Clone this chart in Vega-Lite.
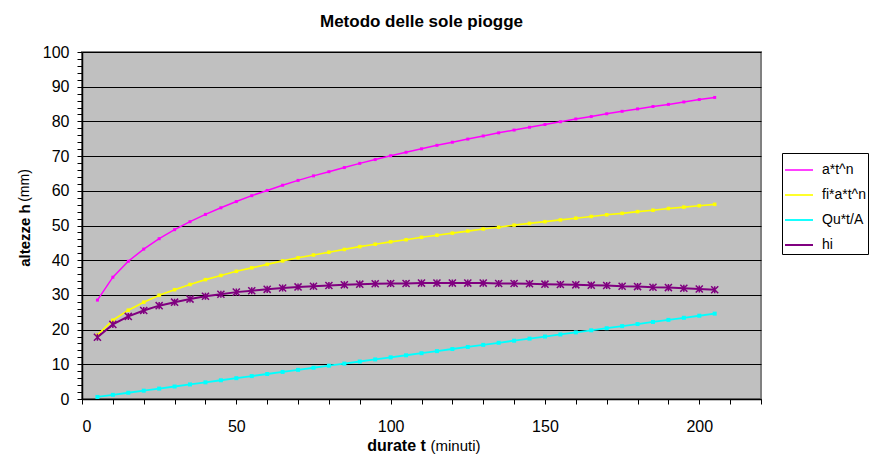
{
  "$schema": "https://vega.github.io/schema/vega-lite/v6.json",
  "width": 679,
  "height": 347,
  "autosize": {"type": "none"},
  "padding": {"left": 82, "top": 52, "right": 111, "bottom": 58},
  "background": "white",
  "view": {"fill": "#C0C0C0", "stroke": "#808080", "strokeWidth": 2},
  "config": {
    "font": "Liberation Sans",
    "axis": {"labelFont": "Liberation Sans", "titleFont": "Liberation Sans", "labelColor": "black", "titleColor": "black", "domainColor": "black", "tickColor": "black"},
    "legend": {"labelFont": "Liberation Sans"}
  },
  "title": {
    "text": "Metodo delle sole piogge",
    "font": "Liberation Sans",
    "fontSize": 17,
    "fontWeight": "bold",
    "color": "black",
    "anchor": "middle",
    "frame": "group",
    "offset": 13
  },
  "data": {
    "values": [
      {"t": 5, "a*t^n": 28.5, "fi*a*t^n": 18.4, "Qu*t/A": 0.6, "hi": 17.8},
      {"t": 10, "a*t^n": 35.1, "fi*a*t^n": 22.7, "Qu*t/A": 1.2, "hi": 21.5},
      {"t": 15, "a*t^n": 39.7, "fi*a*t^n": 25.6, "Qu*t/A": 1.8, "hi": 23.8},
      {"t": 20, "a*t^n": 43.2, "fi*a*t^n": 27.9, "Qu*t/A": 2.4, "hi": 25.5},
      {"t": 25, "a*t^n": 46.2, "fi*a*t^n": 29.9, "Qu*t/A": 3.0, "hi": 26.9},
      {"t": 30, "a*t^n": 48.8, "fi*a*t^n": 31.5, "Qu*t/A": 3.6, "hi": 27.9},
      {"t": 35, "a*t^n": 51.1, "fi*a*t^n": 33.0, "Qu*t/A": 4.2, "hi": 28.8},
      {"t": 40, "a*t^n": 53.2, "fi*a*t^n": 34.4, "Qu*t/A": 4.8, "hi": 29.6},
      {"t": 45, "a*t^n": 55.1, "fi*a*t^n": 35.6, "Qu*t/A": 5.4, "hi": 30.2},
      {"t": 50, "a*t^n": 56.9, "fi*a*t^n": 36.8, "Qu*t/A": 6.0, "hi": 30.8},
      {"t": 55, "a*t^n": 58.6, "fi*a*t^n": 37.8, "Qu*t/A": 6.6, "hi": 31.2},
      {"t": 60, "a*t^n": 60.1, "fi*a*t^n": 38.8, "Qu*t/A": 7.2, "hi": 31.6},
      {"t": 65, "a*t^n": 61.6, "fi*a*t^n": 39.8, "Qu*t/A": 7.8, "hi": 32.0},
      {"t": 70, "a*t^n": 63.0, "fi*a*t^n": 40.7, "Qu*t/A": 8.4, "hi": 32.3},
      {"t": 75, "a*t^n": 64.3, "fi*a*t^n": 41.5, "Qu*t/A": 9.0, "hi": 32.5},
      {"t": 80, "a*t^n": 65.5, "fi*a*t^n": 42.3, "Qu*t/A": 9.6, "hi": 32.7},
      {"t": 85, "a*t^n": 66.7, "fi*a*t^n": 43.1, "Qu*t/A": 10.2, "hi": 32.9},
      {"t": 90, "a*t^n": 67.9, "fi*a*t^n": 43.9, "Qu*t/A": 10.8, "hi": 33.1},
      {"t": 95, "a*t^n": 69.0, "fi*a*t^n": 44.6, "Qu*t/A": 11.4, "hi": 33.2},
      {"t": 100, "a*t^n": 70.1, "fi*a*t^n": 45.3, "Qu*t/A": 12.0, "hi": 33.3},
      {"t": 105, "a*t^n": 71.1, "fi*a*t^n": 45.9, "Qu*t/A": 12.6, "hi": 33.3},
      {"t": 110, "a*t^n": 72.1, "fi*a*t^n": 46.6, "Qu*t/A": 13.2, "hi": 33.4},
      {"t": 115, "a*t^n": 73.1, "fi*a*t^n": 47.2, "Qu*t/A": 13.8, "hi": 33.4},
      {"t": 120, "a*t^n": 74.0, "fi*a*t^n": 47.8, "Qu*t/A": 14.4, "hi": 33.4},
      {"t": 125, "a*t^n": 74.9, "fi*a*t^n": 48.4, "Qu*t/A": 15.0, "hi": 33.4},
      {"t": 130, "a*t^n": 75.8, "fi*a*t^n": 49.0, "Qu*t/A": 15.6, "hi": 33.4},
      {"t": 135, "a*t^n": 76.7, "fi*a*t^n": 49.5, "Qu*t/A": 16.2, "hi": 33.3},
      {"t": 140, "a*t^n": 77.5, "fi*a*t^n": 50.1, "Qu*t/A": 16.8, "hi": 33.3},
      {"t": 145, "a*t^n": 78.3, "fi*a*t^n": 50.6, "Qu*t/A": 17.4, "hi": 33.2},
      {"t": 150, "a*t^n": 79.1, "fi*a*t^n": 51.1, "Qu*t/A": 18.0, "hi": 33.1},
      {"t": 155, "a*t^n": 79.9, "fi*a*t^n": 51.6, "Qu*t/A": 18.6, "hi": 33.0},
      {"t": 160, "a*t^n": 80.7, "fi*a*t^n": 52.1, "Qu*t/A": 19.2, "hi": 32.9},
      {"t": 165, "a*t^n": 81.4, "fi*a*t^n": 52.6, "Qu*t/A": 19.8, "hi": 32.8},
      {"t": 170, "a*t^n": 82.2, "fi*a*t^n": 53.1, "Qu*t/A": 20.4, "hi": 32.7},
      {"t": 175, "a*t^n": 82.9, "fi*a*t^n": 53.5, "Qu*t/A": 21.0, "hi": 32.5},
      {"t": 180, "a*t^n": 83.6, "fi*a*t^n": 54.0, "Qu*t/A": 21.6, "hi": 32.4},
      {"t": 185, "a*t^n": 84.3, "fi*a*t^n": 54.4, "Qu*t/A": 22.2, "hi": 32.2},
      {"t": 190, "a*t^n": 84.9, "fi*a*t^n": 54.9, "Qu*t/A": 22.8, "hi": 32.1},
      {"t": 195, "a*t^n": 85.6, "fi*a*t^n": 55.3, "Qu*t/A": 23.4, "hi": 31.9},
      {"t": 200, "a*t^n": 86.3, "fi*a*t^n": 55.7, "Qu*t/A": 24.0, "hi": 31.7},
      {"t": 205, "a*t^n": 86.9, "fi*a*t^n": 56.1, "Qu*t/A": 24.6, "hi": 31.5}
    ]
  },
  "transform": [
    {"fold": ["a*t^n", "fi*a*t^n", "Qu*t/A", "hi"], "as": ["serie", "h"]}
  ],
  "resolve": {"axis": {"x": "independent", "y": "independent"}},
  "layer": [
    {
      "mark": {"type": "line", "clip": true},
      "encoding": {
        "x": {
          "field": "t", "type": "quantitative",
          "scale": {"domain": [0, 220], "nice": false, "zero": false},
          "axis": {
            "orient": "bottom",
            "values": [0,10,20,30,40,50,60,70,80,90,100,110,120,130,140,150,160,170,180,190,200,210,220],
            "labelExpr": "datum.value % 50 === 0 ? datum.label : ''",
            "labelOverlap": false,
            "labelFontSize": 16,
            "labelPadding": 14,
            "tickSize": 5,
            "domainWidth": 1.5,
            "grid": false,
            "title": "durate t",
            "titleFontSize": 16,
            "titleFontWeight": "bold",
            "titleX": 314,
            "titleY": 51,
            "titleAlign": "center",
            "titleBaseline": "alphabetic"
          }
        },
        "y": {
          "field": "h", "type": "quantitative",
          "scale": {"domain": [0, 100], "nice": false},
          "axis": {
            "orient": "left",
            "values": [0,2,4,6,8,10,12,14,16,18,20,22,24,26,28,30,32,34,36,38,40,42,44,46,48,50,52,54,56,58,60,62,64,66,68,70,72,74,76,78,80,82,84,86,88,90,92,94,96,98,100],
            "labelExpr": "datum.value % 10 === 0 ? datum.label : ''",
            "labelOverlap": false,
            "labelFontSize": 16,
            "labelPadding": 8,
            "tickSize": 5,
            "domainWidth": 1.5,
            "grid": true,
            "gridColor": "black",
            "gridWidth": 1,
            "gridOpacity": {"condition": {"test": "datum.value % 10 === 0", "value": 1}, "value": 0},
            "title": "altezze h",
            "titleFontSize": 15,
            "titleFontWeight": "bold",
            "titleAngle": -90,
            "titleX": -58,
            "titleY": 183,
            "titleAlign": "center",
            "titleBaseline": "middle"
          }
        },
        "color": {
          "field": "serie", "type": "nominal",
          "sort": ["a*t^n", "fi*a*t^n", "Qu*t/A", "hi"],
          "scale": {"domain": ["a*t^n", "fi*a*t^n", "Qu*t/A", "hi"], "range": ["#FF00FF", "#FFFF00", "#00FFFF", "#800080"]},
          "legend": {
            "title": null,
            "orient": "none",
            "legendX": 700,
            "legendY": 101,
            "symbolType": "stroke",
            "symbolSize": 784,
            "symbolStrokeWidth": 1.5,
            "labelFontSize": 14,
            "labelColor": "black",
            "labelOffset": 8,
            "rowPadding": 3,
            "padding": 2,
            "strokeColor": "black",
            "fillColor": "white"
          }
        },
        "strokeWidth": {
          "field": "serie", "type": "nominal",
          "scale": {"domain": ["a*t^n", "fi*a*t^n", "Qu*t/A", "hi"], "range": [1.5, 2, 2, 2]},
          "legend": null
        }
      }
    },
    {
      "transform": [{"filter": "datum.serie !== 'hi'"}],
      "mark": {"type": "point", "shape": "square", "filled": true, "opacity": 1},
      "encoding": {
        "x": {"field": "t", "type": "quantitative", "axis": null},
        "y": {"field": "h", "type": "quantitative", "axis": null},
        "color": {"field": "serie", "type": "nominal"},
        "size": {
          "field": "serie", "type": "nominal",
          "scale": {"domain": ["a*t^n", "fi*a*t^n", "Qu*t/A"], "range": [9, 16, 12]},
          "legend": null
        }
      }
    },
    {
      "transform": [{"filter": "datum.serie === 'hi'"}],
      "mark": {"type": "point", "shape": "M-1,-1L1,1M-1,1L1,-1M0,-1L0,1", "filled": false, "size": 50, "strokeWidth": 1.5, "opacity": 1},
      "encoding": {
        "x": {"field": "t", "type": "quantitative", "axis": null},
        "y": {"field": "h", "type": "quantitative", "axis": null},
        "color": {"field": "serie", "type": "nominal"}
      }
    },
    {
      "mark": {"type": "point", "opacity": 0},
      "encoding": {
        "x": {
          "field": "t", "type": "quantitative",
          "axis": {
            "orient": "bottom", "labels": false, "ticks": false, "domain": false, "grid": false,
            "title": "(minuti)", "titleFontSize": 15, "titleFontWeight": "normal",
            "titleX": 373, "titleY": 51, "titleAlign": "center", "titleBaseline": "alphabetic"
          }
        },
        "y": {
          "field": "h", "type": "quantitative",
          "axis": {
            "orient": "left", "labels": false, "ticks": false, "domain": false, "grid": false,
            "title": "(mm)", "titleFontSize": 14, "titleFontWeight": "normal", "titleAngle": -90,
            "titleX": -58, "titleY": 133, "titleAlign": "center", "titleBaseline": "middle"
          }
        }
      }
    }
  ]
}
